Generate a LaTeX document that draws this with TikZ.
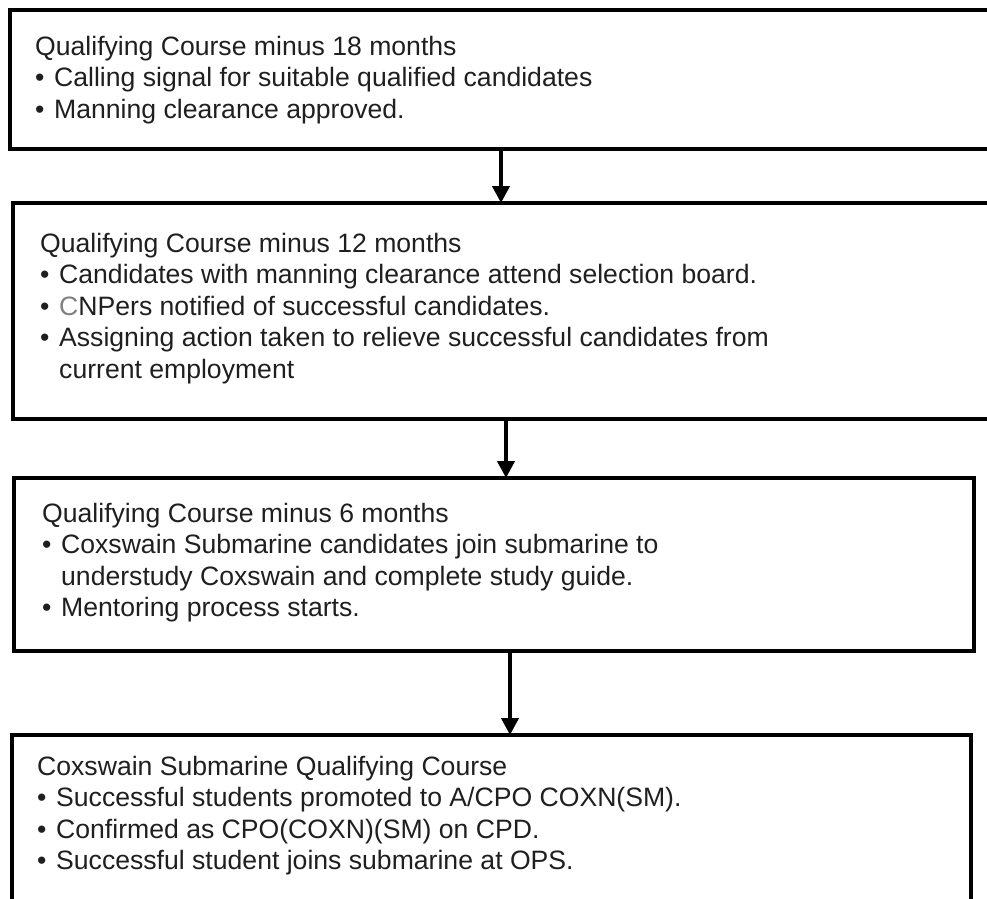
\documentclass[tikz,border=0pt]{standalone}
\usepackage{fontspec}
\setmainfont{Liberation Sans}
\usetikzlibrary{arrows.meta}

\tikzset{
  stagebox/.style={draw, line width=3.5pt, outer sep=0pt, inner sep=0pt, anchor=north west},
  stagetext/.style={anchor=north west, inner sep=0pt, align=left, text=black!88,
                    font=\fontsize{26.6}{31.5}\selectfont},
  flowarrow/.style={line width=4pt, -{Triangle[length=17pt,width=17pt]}}
}
\newcommand{\bul}{\makebox[19pt][l]{\textbullet}}
\newcommand{\cnt}{\hspace*{19pt}}

\begin{document}
\begin{tikzpicture}[x=1pt,y=1pt]

\useasboundingbox (0,0) rectangle (987,-898);
\clip (0,0) rectangle (987,-898);

\node[stagebox, minimum width=990, minimum height=139] (m18) at (10,-10) {};
\node[stagebox, minimum width=990, minimum height=216] (m12) at (13,-203) {};
\node[stagebox, minimum width=960, minimum height=173] (m6)  at (14,-478) {};
\node[stagebox, minimum width=959, minimum height=200] (qc)  at (12,-735) {};

\node[stagetext] (m18txt) at ([shift={(25,-26)}]m18.north west)
  {Qualifying Course minus 18 months\\
   \bul Calling signal for suitable qualified candidates\\
   \bul Manning clearance approved.};
\node[stagetext] (m12txt) at ([shift={(27,-30)}]m12.north west)
  {Qualifying Course minus 12 months\\
   \bul Candidates with manning clearance attend selection board.\\
   \bul {\color{black!50}C}NPers notified of successful candidates.\\
   \bul Assigning action taken to relieve successful candidates from\\
   \cnt current employment};
\node[stagetext] (m6txt) at ([shift={(28,-25)}]m6.north west)
  {Qualifying Course minus 6 months\\
   \bul Coxswain Submarine candidates join submarine to\\
   \cnt understudy Coxswain and complete study guide.\\
   \bul Mentoring process starts.};
\node[stagetext] (qctxt) at ([shift={(25,-21)}]qc.north west)
  {Coxswain Submarine Qualifying Course\\
   \bul Successful students promoted to A/CPO COXN(SM).\\
   \bul Confirmed as CPO(COXN)(SM) on CPD.\\
   \bul Successful student joins submarine at OPS.};

\draw[flowarrow] ([xshift=-4pt]m18.south) -- ([xshift=-4pt]m18.south |- m12.north);
\draw[flowarrow] ([xshift=-2pt]m12.south) -- ([xshift=-2pt]m12.south |- m6.north);
\draw[flowarrow] ([xshift=16pt]m6.south) -- ([xshift=16pt]m6.south |- qc.north);

\end{tikzpicture}
\end{document}
